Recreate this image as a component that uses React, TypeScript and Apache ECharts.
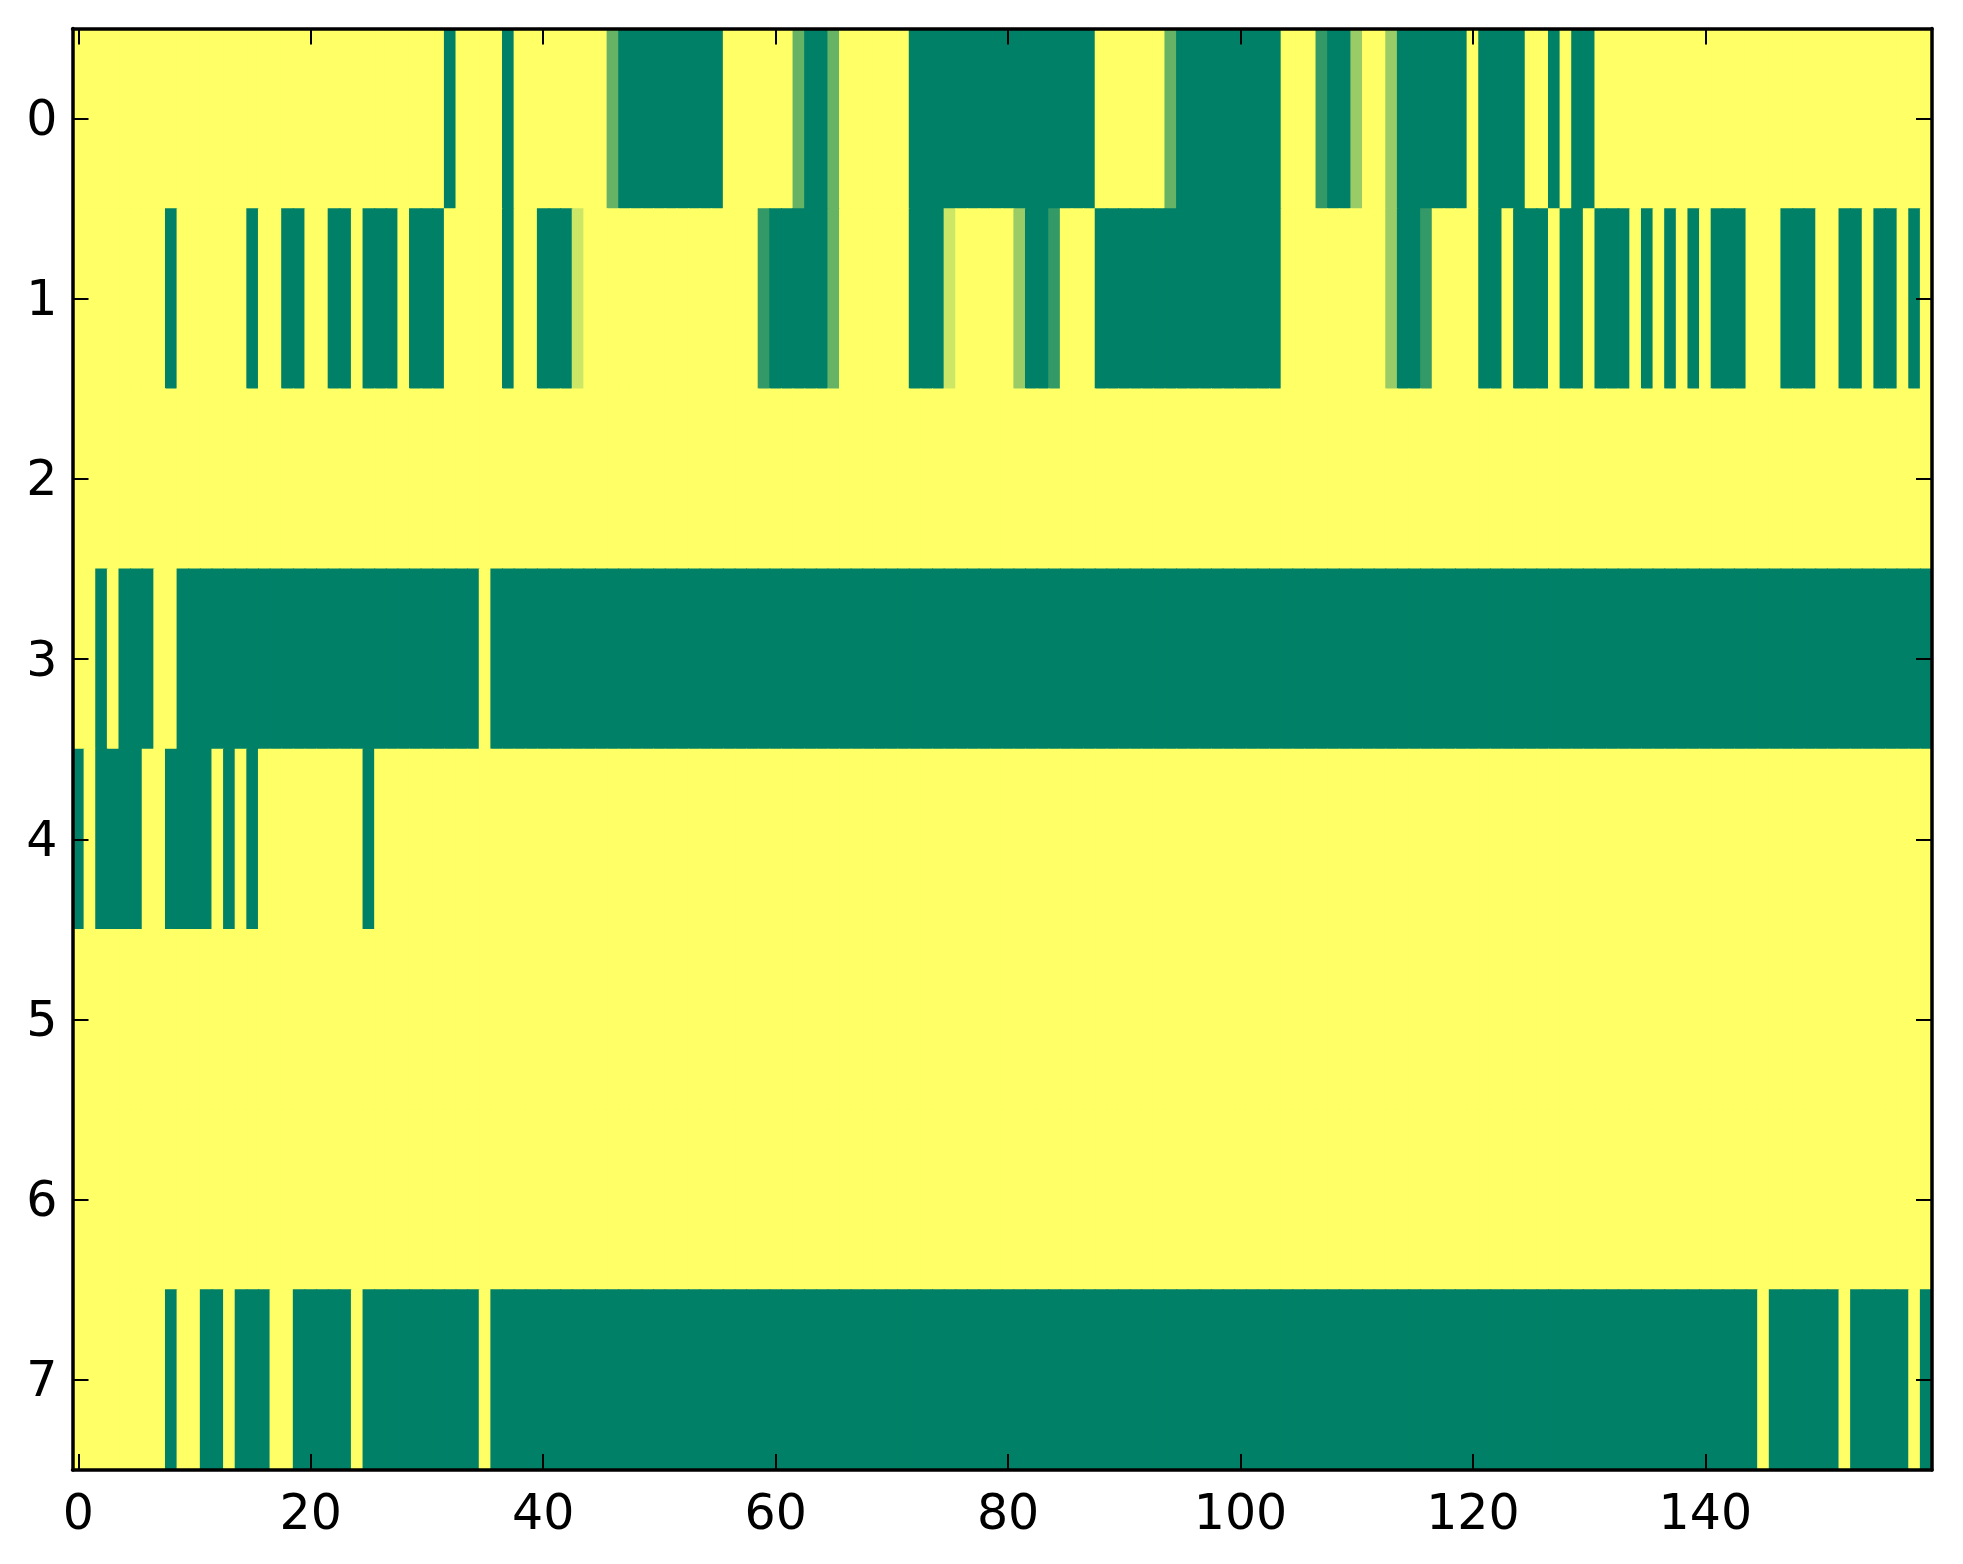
import React, { useEffect, useRef } from "react";
import * as echarts from "echarts";

const row0 = [[5, 32], [0, 1], [5, 4], [0, 1], [5, 8], [2, 1], [0, 9], [5, 6], [2, 1], [0, 2], [2, 1], [5, 6], [0, 16], [5, 6], [2, 1], [0, 9], [5, 3], [1, 1], [0, 2], [3, 1], [5, 2], [3, 1], [0, 6], [5, 1], [0, 4], [5, 2], [0, 1], [5, 1], [0, 2], [5, 29]];
const row1 = [[5, 8], [0, 1], [5, 6], [0, 1], [5, 2], [0, 2], [5, 2], [0, 2], [5, 1], [0, 3], [5, 1], [0, 3], [5, 5], [0, 1], [5, 2], [0, 3], [4, 1], [5, 15], [1, 1], [0, 5], [2, 1], [5, 6], [0, 3], [4, 1], [5, 5], [3, 1], [0, 2], [1, 1], [5, 3], [0, 16], [5, 9], [3, 1], [0, 2], [1, 1], [5, 4], [0, 2], [5, 1], [0, 3], [5, 1], [0, 2], [5, 1], [0, 3], [5, 1], [0, 1], [5, 1], [0, 1], [5, 1], [0, 1], [5, 1], [0, 3], [5, 3], [0, 3], [5, 2], [0, 2], [5, 1], [0, 2], [5, 1], [0, 1], [5, 1]];
const row2 = [[5, 160]];
const row3 = [[5, 2], [0, 1], [5, 1], [0, 3], [5, 2], [0, 26], [5, 1], [0, 124]];
const row4 = [[0, 1], [5, 1], [0, 4], [5, 2], [0, 4], [5, 1], [0, 1], [5, 1], [0, 1], [5, 9], [0, 1], [5, 134]];
const row5 = [[5, 160]];
const row6 = [[5, 160]];
const row7 = [[5, 8], [0, 1], [5, 2], [0, 2], [5, 1], [0, 3], [5, 2], [0, 5], [5, 1], [0, 10], [5, 1], [0, 109], [5, 1], [0, 6], [5, 1], [0, 5], [5, 1], [0, 1]];

const rows = [row0, row1, row2, row3, row4, row5, row6, row7];
const rowLabels = ["0", "1", "2", "3", "4", "5", "6", "7"];
const columnCount = 160;
const columns = Array.from({ length: columnCount }, (_, i) => String(i));

const decode = (runs: number[][]) => {
  const out: number[] = [];
  runs.forEach(([level, count]) => {
    for (let k = 0; k < count; k++) out.push(level / 5);
  });
  return out;
};

const cells: number[][] = [];
rows.forEach((runs, y) => {
  decode(runs).forEach((v, x) => cells.push([x, y, v]));
});

const font = "DejaVu Sans";

const App: React.FC = () => {
  const chartRef = useRef<HTMLDivElement>(null);

  useEffect(() => {
    if (!chartRef.current) return;
    const chart = echarts.init(chartRef.current, null, { renderer: "svg" });

    const tick = {
      show: true,
      inside: true,
      length: 16,
      alignWithLabel: true,
      lineStyle: { color: "#000", width: 2 },
    };
    const line = { show: true, lineStyle: { color: "#000", width: 3.5 } };

    const option: echarts.EChartsOption = {
      animation: false,
      backgroundColor: "#fff",
      grid: { left: 72.5, top: 28.5, width: 1859.5, height: 1441.5 },
      xAxis: [
        {
          type: "category",
          data: columns,
          position: "bottom",
          z: 10,
          axisLine: line,
          axisTick: { ...tick, interval: 19 },
          axisLabel: {
            interval: 19,
            margin: 18,
            fontSize: 49,
            fontFamily: font,
            color: "#000",
          },
          splitLine: { show: false },
        },
        {
          type: "category",
          data: columns,
          position: "top",
          z: 10,
          axisLine: line,
          axisTick: { ...tick, interval: 19 },
          axisLabel: { show: false },
          splitLine: { show: false },
        },
      ],
      yAxis: [
        {
          type: "category",
          data: rowLabels,
          inverse: true,
          position: "left",
          z: 10,
          axisLine: line,
          axisTick: { ...tick, interval: 0 },
          axisLabel: {
            margin: 15,
            fontSize: 49,
            fontFamily: font,
            color: "#000",
          },
          splitLine: { show: false },
        },
        {
          type: "category",
          data: rowLabels,
          inverse: true,
          position: "right",
          z: 10,
          axisLine: line,
          axisTick: { ...tick, interval: 0 },
          axisLabel: { show: false },
          splitLine: { show: false },
        },
      ],
      visualMap: {
        show: false,
        type: "continuous",
        min: 0,
        max: 1,
        dimension: 2,
        seriesIndex: 0,
        inRange: { color: ["#008066", "#ffff66"] },
      },
      series: [
        {
          type: "custom",
          xAxisIndex: 0,
          yAxisIndex: 0,
          encode: { x: 0, y: 1 },
          data: cells,
          renderItem: (params: any, api: any) => {
            const p = api.coord([api.value(0), api.value(1)]);
            const s = api.size([1, 1]);
            // small overlap so neighbouring cells leave no seam
            return {
              type: "rect",
              shape: {
                x: p[0] - s[0] / 2 - 0.5,
                y: p[1] - s[1] / 2 - 0.5,
                width: s[0] + 1,
                height: s[1] + 1,
              },
              style: { fill: api.visual("color") },
            };
          },
          silent: true,
        },
      ],
    };

    chart.setOption(option);
    return () => {
      chart.dispose();
    };
  }, []);

  return (
    <div
      ref={chartRef}
      style={{ position: "fixed", left: 0, top: 0, width: "1963px", height: "1564px" }}
    />
  );
};

export default App;
